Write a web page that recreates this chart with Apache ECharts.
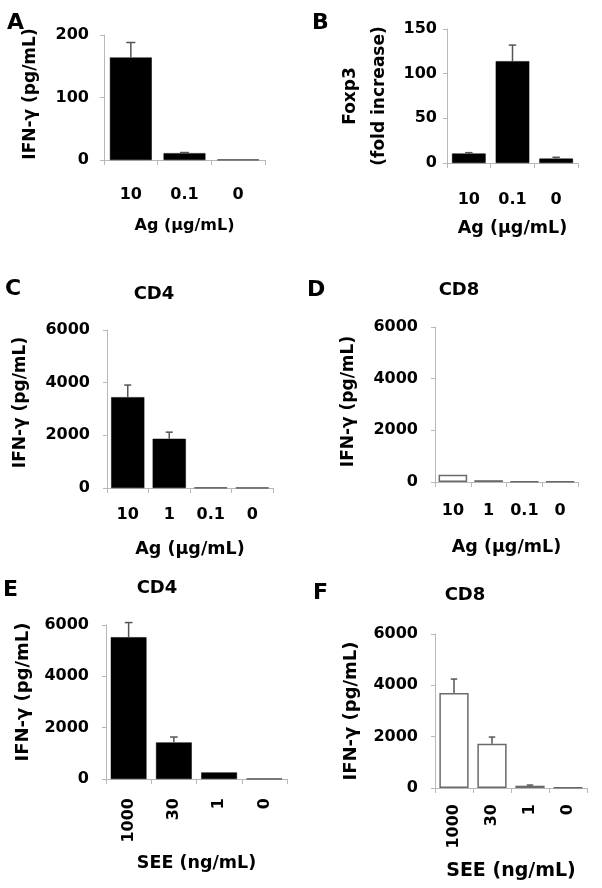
<!DOCTYPE html>
<html>
<head>
<meta charset="utf-8">
<script src="https://cdn.jsdelivr.net/npm/echarts@6/dist/echarts.min.js"></script>
<style>
  html, body { margin: 0; padding: 0; background: #fff; }
  #chart { width: 602px; height: 888px; }
</style>
</head>
<body>
<div id="chart"></div>
<script>
// ---- data ----
const catsA = ['10', '0.1', '0'];
const meanA = [164, 11, 0.6];
const sdA   = [24, 1, 0];

const catsB = ['10', '0.1', '0'];
const meanB = [10.6, 114, 4.9];
const sdB   = [1, 18, 1.5];

const catsC = ['10', '1', '0.1', '0'];
const meanC = [3450, 1870, 15, 10];
const sdC   = [460, 250, 0, 0];

const catsD = ['10', '1', '0.1', '0'];
const meanD = [280, 70, 15, 10];
const sdD   = [0, 0, 0, 0];

const catsE = ['1000', '30', '1', '0'];
const meanE = [5525, 1425, 257, 10];
const sdE   = [570, 210, 0, 0];

const catsF = ['1000', '30', '1', '0'];
const meanF = [3700, 1725, 90, 10];
const sdF   = [545, 260, 25, 0];

const yTitleIFN = 'IFN-\u03b3 (pg/mL)';
const yTitleFox = 'Foxp3\n(fold increase)';
const xTitleAg = 'Ag (\u03bcg/mL)';
const xTitleSEE = 'SEE (ng/mL)';

// ---- layout ----
const FONT = 'DejaVu Sans';
const panels = [
  {cats: catsA, mean: meanA, sd: sdA, max: 200, interval: 100, grid: {left: 104, top: 35, width: 161, height: 125},
   yName: yTitleIFN, yFs: 17, yGap: 59, yShift: 7, yMargin: 15, xName: xTitleAg, xFs: 16, xGap: 58, xMargin: 27, rotate: 0, barW: '78%', white: false},
  {cats: catsB, mean: meanB, sd: sdB, max: 150, interval: 50, grid: {left: 447, top: 29, width: 131, height: 134},
   yName: yTitleFox, yFs: 17, yGap: 53, yShift: 0, yMargin: 10, xName: xTitleAg, xFs: 17.5, xGap: 56, xMargin: 29, rotate: 0, barW: '77%', white: false},
  {cats: catsC, mean: meanC, sd: sdC, max: 6000, interval: 2000, grid: {left: 107, top: 330, width: 166, height: 158},
   yName: yTitleIFN, yFs: 17, yGap: 72, yShift: 13, yMargin: 17, xName: xTitleAg, xFs: 17.5, xGap: 52, xMargin: 19, rotate: 0, barW: '80%', white: false},
  {cats: catsD, mean: meanD, sd: sdD, max: 6000, interval: 2000, grid: {left: 435, top: 327, width: 143, height: 155},
   yName: yTitleIFN, yFs: 17, yGap: 72, yShift: 6, yMargin: 17, xName: xTitleAg, xFs: 17.5, xGap: 56, xMargin: 21, rotate: 0, barW: '80%', white: true},
  {cats: catsE, mean: meanE, sd: sdE, max: 6000, interval: 2000, grid: {left: 106, top: 625, width: 181, height: 154},
   yName: yTitleIFN, yFs: 18, yGap: 68, yShift: 20, yMargin: 17, xName: xTitleSEE, xFs: 17.5, xGap: 75, xMargin: 19, rotate: 90, barW: '79%', white: false},
  {cats: catsF, mean: meanF, sd: sdF, max: 6000, interval: 2000, grid: {left: 435, top: 634, width: 152, height: 154},
   yName: yTitleIFN, yFs: 18, yGap: 69, yShift: 0, yMargin: 17, xName: xTitleSEE, xFs: 19, xGap: 74, xMargin: 16, rotate: 90, barW: '77%', white: true}
];

const axisGray = '#b8b8b8';
const grids = [], xAxes = [], yAxes = [], series = [];

panels.forEach((p, i) => {
  grids.push(Object.assign({containLabel: false}, p.grid));
  xAxes.push({
    type: 'category', gridIndex: i, data: p.cats,
    axisLine: {show: true, lineStyle: {color: axisGray, width: 1}},
    axisTick: {show: true, length: 5, alignWithLabel: false, interval: 0, lineStyle: {color: axisGray}},
    axisLabel: {interval: 0, rotate: p.rotate, margin: p.xMargin, color: '#000', fontFamily: FONT, fontWeight: 'bold', fontSize: 16},
    name: p.xName, nameLocation: 'middle', nameGap: p.xGap,
    nameTextStyle: {color: '#000', fontFamily: FONT, fontWeight: 'bold', fontSize: p.xFs},
    splitLine: {show: false}
  });
  yAxes.push({
    type: 'value', gridIndex: i, min: 0, max: p.max, interval: p.interval,
    axisLine: {show: true, lineStyle: {color: axisGray, width: 1}},
    axisTick: {show: true, length: 4, lineStyle: {color: axisGray}},
    axisLabel: {margin: p.yMargin, color: '#000', fontFamily: FONT, fontWeight: 'bold', fontSize: 16,
      formatter: v => String(v)},
    name: p.yName, nameLocation: 'middle', nameGap: p.yGap, nameRotate: 90,
    nameTextStyle: {color: '#000', fontFamily: FONT, fontWeight: 'bold', fontSize: p.yFs, lineHeight: 29,
      padding: [0, 0, 0, p.yShift]},
    splitLine: {show: false}
  });
  series.push({
    type: 'bar', xAxisIndex: i, yAxisIndex: i, data: p.mean, barWidth: p.barW,
    itemStyle: p.white
      ? {color: '#fff', borderColor: '#6a6a6a', borderWidth: 1.5}
      : {color: '#000', borderColor: '#000', borderWidth: 0.5},
    silent: true, z: 2
  });
  series.push({
    type: 'custom', xAxisIndex: i, yAxisIndex: i, clip: false, z: 3, silent: true,
    data: p.mean.map((m, k) => [k, m, p.sd[k]]),
    encode: {x: 0, y: 1},
    renderItem: function (params, api) {
      const k = api.value(0), m = api.value(1), s = api.value(2);
      if (!s) return null;
      const a = api.coord([k, m]);
      const b = api.coord([k, m + s]);
      const hw = api.size([1, 0])[0] * 0.085;
      const st = {stroke: '#555', lineWidth: 1.5};
      return {type: 'group', children: [
        {type: 'line', shape: {x1: a[0], y1: a[1], x2: b[0], y2: b[1]}, style: st},
        {type: 'line', shape: {x1: b[0] - hw, y1: b[1], x2: b[0] + hw, y2: b[1]}, style: st}
      ]};
    }
  });
});

const letterStyle = {fill: '#000', font: 'bold 22px "DejaVu Sans"', textAlign: 'left', textVerticalAlign: 'middle'};
const titleStyle = {fill: '#000', font: 'bold 18px "DejaVu Sans"', textAlign: 'center', textVerticalAlign: 'middle'};
const texts = [
  ['A', 7, 23, letterStyle], ['B', 312, 23, letterStyle], ['C', 5, 289, letterStyle],
  ['D', 307, 290, letterStyle], ['E', 3, 590, letterStyle], ['F', 313, 593, letterStyle],
  ['CD4', 154, 294, titleStyle], ['CD8', 459, 290, titleStyle],
  ['CD4', 157, 588, titleStyle], ['CD8', 465, 595, titleStyle]
];
const graphic = texts.map(t => ({type: 'text', x: t[1], y: t[2], silent: true,
  style: Object.assign({text: t[0]}, t[3])}));

const chart = echarts.init(document.getElementById('chart'), null, {renderer: 'canvas'});
chart.setOption({
  animation: false,
  backgroundColor: '#fff',
  grid: grids, xAxis: xAxes, yAxis: yAxes, series: series,
  graphic: graphic
});
</script>
</body>
</html>
